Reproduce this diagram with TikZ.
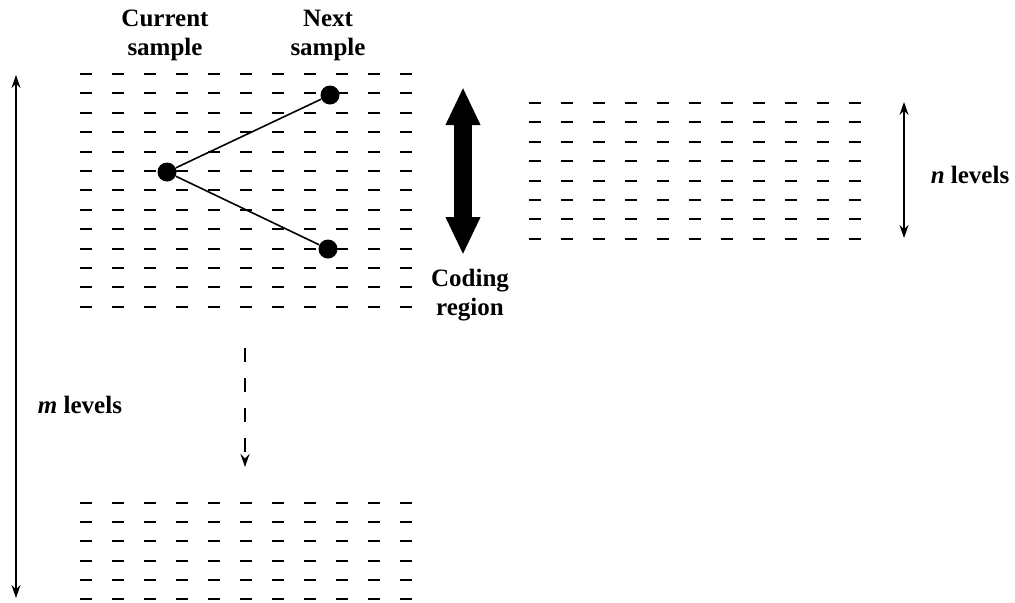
\documentclass[tikz,border=0pt]{standalone}
\usepackage{fontspec}
\setmainfont{Liberation Serif}
\usepackage{tikz}
\usetikzlibrary{arrows.meta,positioning}
\tikzset{every node/.style={font=\bfseries\fontsize{12.5}{14.5}\selectfont}}

\begin{document}
\begin{tikzpicture}[
  x=0.5pt, y=-0.5pt,
  levelmark/.style={line width=1pt},
  sampledot/.style={circle, fill=black, inner sep=0pt, minimum size=9.5pt},
  textlabel/.style={align=center, inner sep=0pt},
  levelspan/.style={line width=0.6pt,
    {Stealth[length=6.5pt,width=4.5pt]}-{Stealth[length=6.5pt,width=4.5pt]}}
]
\useasboundingbox (0,0) rectangle (1015,602);

% quantizer levels
\foreach \r in {0,...,12}
  \foreach \c in {0,...,10}
    \draw[levelmark] (80+32*\c, 74+19.4*\r) -- ++(12,0);

\foreach \r in {0,...,7}
  \foreach \c in {0,...,10}
    \draw[levelmark] (529+32*\c, 103+19.4*\r) -- ++(12,0);

\foreach \r in {0,...,5}
  \foreach \c in {0,...,10}
    \draw[levelmark] (80+32*\c, 503+19.2*\r) -- ++(12,0);

% samples
\node[sampledot] (cur) at (167,172) {};
\node[sampledot] (nexthi) at (330,95) {};
\node[sampledot] (nextlo) at (328,249) {};

\draw[line width=0.8pt] (cur) -- (nexthi);
\draw[line width=0.8pt] (cur) -- (nextlo);

\node[textlabel] (curlbl) at (165,35) {Current\\sample};
\node[textlabel] (nextlbl) at (328,35) {Next\\sample};

% coding region
\coordinate (codetop) at (463,87);
\coordinate (codebot) at (463,255);
\draw[line width=9pt,
  {Triangle[width=16pt,length=19pt]}-{Triangle[width=16pt,length=19pt]}]
  (codetop) -- (codebot);
\node[textlabel] (codelbl) at (470,295) {Coding\\region};

% level ranges
\coordinate (mtop) at (16,75);
\coordinate (mbot) at (16,598);
\draw[levelspan] (mtop) -- (mbot);
\node[textlabel] (mlbl) at (80,405) {\textit{m} levels};

\coordinate (ntop) at (904,102);
\coordinate (nbot) at (904,238);
\draw[levelspan] (ntop) -- (nbot);
\node[textlabel] (nlbl) at (970,175) {\textit{n} levels};

% move down
\coordinate (dstart) at (245,348);
\coordinate (dend) at (245,467);
\draw[line width=0.6pt, dash pattern=on 7pt off 8pt,
  -{Stealth[length=6.5pt,width=4.5pt]}] (dstart) -- (dend);

\end{tikzpicture}
\end{document}
